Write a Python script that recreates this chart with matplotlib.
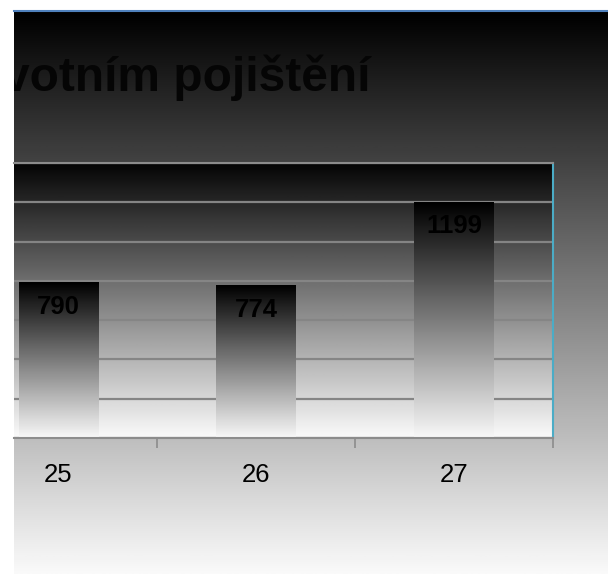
import numpy as np
import matplotlib.pyplot as plt
from matplotlib.lines import Line2D

plt.rcParams['font.family'] = ['Liberation Sans', 'DejaVu Sans']

# data
categories = ['25', '26', '27']
values = [790, 774, 1199]
title = 'votním pojištění'

W, H = 608, 574
fig = plt.figure(figsize=(W / 100, H / 100), dpi=100, facecolor='white')

# chart background: vertical gradient black -> near white
bg = fig.add_axes([14 / W, 0, 1 - 14 / W, (H - 11) / H], zorder=0)
grad = np.linspace(0.0, 0.98, 256).reshape(-1, 1)
bg.imshow(grad, aspect='auto', cmap='gray', vmin=0, vmax=1, extent=[0, 1, 0, 1])
bg.set_xlim(0, 1)
bg.set_ylim(0, 1)
bg.axis('off')
fig.add_artist(Line2D([14 / W, 1], [1 - 11 / H] * 2, color='#4f81bd', lw=1.5))

# title (cut off on the left like in the original)
bg.text(3 / W, 1 - 91 / H, title, transform=fig.transFigure, fontsize=34.5,
        fontweight='bold', color='#050505', va='baseline', ha='left', clip_on=True)

# plot area
ax = fig.add_axes([14 / W, (H - 438) / H, (553 - 14) / W, (438 - 163) / H], zorder=1)
ax.patch.set_visible(False)
ax.imshow(np.linspace(0.02, 0.98, 256).reshape(-1, 1), aspect='auto', cmap='gray',
          vmin=0, vmax=1, extent=[0, 1, 0, 1], transform=ax.transAxes, zorder=0)

x = np.arange(len(values))
bar_w = 0.404
bar_grad = np.linspace(0.0, 0.97, 256).reshape(-1, 1)
for i, v in zip(x, values):
    ax.imshow(bar_grad, aspect='auto', cmap='gray', vmin=0, vmax=1,
              extent=(i - bar_w / 2, i + bar_w / 2, 0, v), zorder=2)
    ax.annotate(str(v), (i, v), xytext=(0, -17.2), textcoords='offset points',
                ha='center', va='center', fontsize=18.5, fontweight='bold',
                color='black', zorder=3)

ax.set_xlim(-0.225, 2.5)
ax.set_ylim(0, 1400)
ax.set_yticks(range(0, 1401, 200))
ax.set_axisbelow(True)
ax.yaxis.grid(True, color='#858585', lw=1.6)
ax.tick_params(axis='y', left=False, labelleft=False)

ax.set_xticks(x)
ax.set_xticklabels(categories, fontsize=18.5, color='black')
ax.set_xticks([0.5, 1.5, 2.5], minor=True)
ax.tick_params(axis='x', which='major', length=0, pad=18)
ax.tick_params(axis='x', which='minor', length=7.5, width=1.2, color='#8c8c8c',
               direction='out')

ax.spines['left'].set_visible(False)
ax.spines['top'].set_color('#8c8c8c')
ax.spines['top'].set_linewidth(1.5)
ax.spines['bottom'].set_color('#8c8c8c')
ax.spines['bottom'].set_linewidth(1.5)
ax.spines['right'].set_color('#4bacc6')
ax.spines['right'].set_linewidth(1.5)

fig.savefig('out.png', dpi=100, facecolor='white')
